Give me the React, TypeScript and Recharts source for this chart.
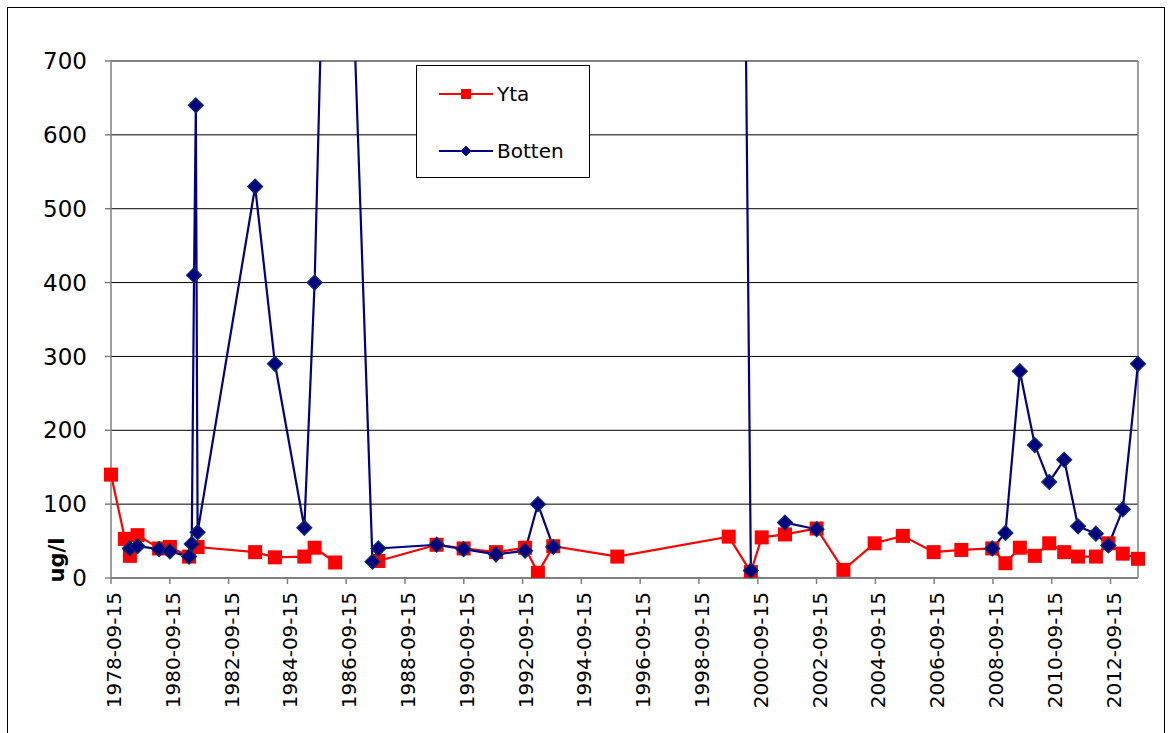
import {
  CartesianGrid,
  Legend,
  Line,
  LineChart,
  ReferenceLine,
  XAxis,
  YAxis,
} from "recharts";

// sampling dates shared by both depths; null = not sampled at that depth
const sampleDates = [
  "1978-09-15", "1979-03-07", "1979-05-08", "1979-08-11", "1980-05-05",
  "1980-09-16", "1981-05-12", "1981-06-14", "1981-07-13", "1981-08-04",
  "1981-08-26", "1983-08-11", "1984-04-13", "1985-04-13", "1985-08-19",
  "1986-05-01", "1987-08-08", "1987-10-20", "1989-10-12", "1990-09-13",
  "1991-10-20", "1992-10-16", "1993-03-24", "1993-10-01", "1995-12-06",
  "1999-09-20", "2000-06-21", "2000-11-03", "2001-08-19", "2002-09-16",
  "2003-08-15", "2004-09-06", "2005-08-22", "2006-09-09", "2007-08-19",
  "2008-09-06", "2009-02-17", "2009-08-15", "2010-02-17", "2010-08-15",
  "2011-02-17", "2011-08-08", "2012-03-17", "2012-08-19", "2013-02-14",
  "2013-08-22",
];

const ytaValues: (number | null)[] = [
  140, 53, 30, 58, 40,
  42, 29, null, null, null,
  42, 35, 28, 29, 41,
  21, null, 23, 45, 40,
  35, 41, 7, 43, 29,
  56, 8, 55, 59, 67,
  11, 47, 57, 35, 38,
  40, 20, 41, 30, 47,
  35, 29, 29, 47, 33,
  26,
];

const bottenValues: (number | null)[] = [
  null, null, 40, 43, 39,
  36, 29, 46, 410, 640,
  62, 530, 290, 68, 400,
  1500, 22, 40, 45, 39,
  32, 37, 100, 42, null,
  3200, 10, null, 75, 66,
  null, null, null, null, null,
  40, 61, 280, 180, 130,
  160, 70, 60, 44, 93,
  290,
];

const xTickLabels = [
  "1978-09-15", "1980-09-15", "1982-09-15", "1984-09-15", "1986-09-15",
  "1988-09-15", "1990-09-15", "1992-09-15", "1994-09-15", "1996-09-15",
  "1998-09-15", "2000-09-15", "2002-09-15", "2004-09-15", "2006-09-15",
  "2008-09-15", "2010-09-15", "2012-09-15",
];

const yTicks = [0, 100, 200, 300, 400, 500, 600, 700];

const legendOrder = ["Yta", "Botten"];

const FONT = '"DejaVu Sans", Verdana, sans-serif';
const RED = "#ff0000";
const NAVY = "#000080";
const AXIS = "#808080";

const toTime = (d: string) => Date.parse(d + "T00:00:00Z");
const fmtDate = (t: number) => new Date(t).toISOString().slice(0, 10);

const data = sampleDates.map((d, i) => ({
  t: toTime(d),
  yta: ytaValues[i],
  botten: bottenValues[i],
}));

const xMin = data[0].t;
const xMax = data[data.length - 1].t;

function SquareDot(props: any) {
  const { cx, cy, value } = props;
  if (value == null || cx == null || cy == null) return null;
  return <rect x={cx - 7} y={cy - 7} width={14} height={14} fill={RED} />;
}

function DiamondDot(props: any) {
  const { cx, cy, value } = props;
  if (value == null || cx == null || cy == null) return null;
  const r = 7.5;
  return (
    <polygon
      points={`${cx},${cy - r} ${cx + r},${cy} ${cx},${cy + r} ${cx - r},${cy}`}
      fill={NAVY}
      stroke="#0b3366"
      strokeWidth={1.2}
    />
  );
}

function DateTick({ x, y, payload }: any) {
  return (
    <text
      transform={`translate(${x},${y}) rotate(-90)`}
      textAnchor="end"
      dy={10}
      fontSize={20}
      fontFamily={FONT}
      fill="#000"
    >
      {fmtDate(payload.value)}
    </text>
  );
}

function UnitLabel() {
  return (
    <text
      transform="translate(64,560) rotate(-90)"
      textAnchor="middle"
      fontSize={21}
      fontWeight="bold"
      fontFamily={FONT}
      fill="#000"
    >
      ug/l
    </text>
  );
}

function LegendBox({ payload }: any) {
  const items = legendOrder
    .map((name) => (payload || []).find((p: any) => p.value === name))
    .filter(Boolean);
  return (
    <div
      style={{
        width: 172,
        height: 111,
        border: "1px solid #000",
        background: "#fff",
        position: "relative",
        fontFamily: FONT,
        fontSize: 20,
      }}
    >
      {items.map((entry: any, i: number) => {
        const isYta = entry.value === "Yta";
        return (
          <div
            key={entry.value}
            style={{
              position: "absolute",
              left: 22,
              top: 16 + i * 57,
              height: 24,
              display: "flex",
              alignItems: "center",
            }}
          >
            <svg width={56} height={24}>
              <line x1={0} y1={12} x2={54} y2={12} stroke={entry.color} strokeWidth={2} />
              {isYta ? (
                <rect x={22} y={7} width={10} height={10} fill={RED} />
              ) : (
                <polygon points="27,7 32,12 27,17 22,12" fill={NAVY} stroke="#0b3366" />
              )}
            </svg>
            <span style={{ marginLeft: 2, color: "#000" }}>{entry.value}</span>
          </div>
        );
      })}
    </div>
  );
}

export default function App() {
  return (
    <div style={{ position: "absolute", left: 0, top: 0, width: 1170, height: 733, background: "#fff", overflow: "hidden" }}>
      <div
        style={{
          position: "absolute",
          left: 7,
          top: 7,
          width: 1156,
          height: 760,
          border: "1px solid #000",
        }}
      />
      <div style={{ position: "absolute", left: 0, top: 0 }}>
        <LineChart
          width={1170}
          height={733}
          data={data}
          margin={{ top: 61, right: 32, bottom: 0, left: 51 }}
        >
          <CartesianGrid vertical={false} stroke="#000" strokeWidth={1} />
          <XAxis
            dataKey="t"
            type="number"
            domain={[xMin, xMax]}
            ticks={xTickLabels.map(toTime)}
            interval={0}
            height={155}
            tick={<DateTick />}
            tickSize={6}
            tickMargin={8}
            axisLine={{ stroke: AXIS, strokeWidth: 1.5 }}
            tickLine={{ stroke: AXIS, strokeWidth: 1.5 }}
          />
          <YAxis
            type="number"
            domain={[0, 700]}
            ticks={yTicks}
            allowDataOverflow
            width={60}
            tickSize={6}
            tickMargin={18}
            tick={{ fontSize: 23, fontFamily: FONT, fill: "#000" }}
            axisLine={{ stroke: AXIS, strokeWidth: 1.5 }}
            tickLine={{ stroke: AXIS, strokeWidth: 1.5 }}
            label={<UnitLabel />}
          />
          <ReferenceLine y={700} stroke={AXIS} strokeWidth={1.5} />
          <ReferenceLine x={xMax} stroke={AXIS} strokeWidth={1.5} />
          <Legend
            layout="vertical"
            align="center"
            verticalAlign="middle"
            wrapperStyle={{ left: 416, top: 65, width: 174, height: 113 }}
            content={<LegendBox />}
          />
          <Line
            dataKey="yta"
            name="Yta"
            stroke={RED}
            strokeWidth={2.2}
            dot={<SquareDot />}
            activeDot={false}
            connectNulls={false}
            isAnimationActive={false}
          />
          <Line
            dataKey="botten"
            name="Botten"
            stroke={NAVY}
            strokeWidth={2.2}
            dot={<DiamondDot />}
            activeDot={false}
            connectNulls={false}
            isAnimationActive={false}
          />
        </LineChart>
      </div>
    </div>
  );
}
